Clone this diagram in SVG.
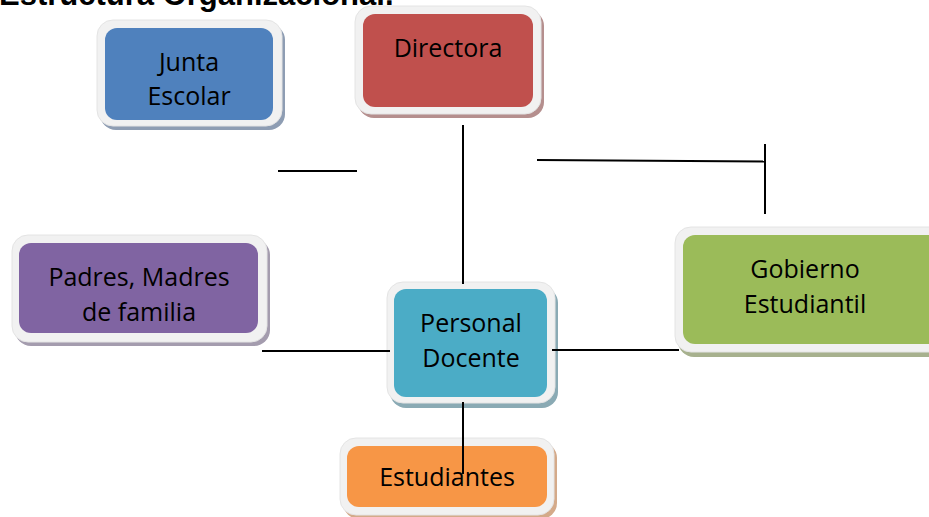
<svg xmlns="http://www.w3.org/2000/svg" width="929" height="517" viewBox="0 0 929 517">
<style>
.frame{fill:#f1f1f1;stroke:#e4e4e4;stroke-width:1}
.lbl{font-family:"Open Sans","Noto Sans",sans-serif;font-size:25px;fill:#000;text-anchor:middle}
.title{font-family:"Liberation Sans",Arial,sans-serif;font-weight:bold;font-size:31px;fill:#000}
.conn line{stroke:#000;stroke-width:2}
</style>
<rect width="929" height="517" fill="#fff"/>
<text class="title" x="-1" y="5">Estructura Organizacional.</text>

<g id="junta">
<rect x="100" y="24" width="185" height="106" rx="16" fill="#8e9db3"/>
<rect class="frame" x="97" y="20" width="185" height="106" rx="16"/>
<rect x="105" y="28" width="168" height="92" rx="12" fill="#4f81bd"/>
<text class="lbl" x="189" y="71">Junta</text>
<text class="lbl" x="189" y="105">Escolar</text>
</g>

<g id="directora">
<rect x="358" y="10" width="186" height="108" rx="16" fill="#b58f8e"/>
<rect class="frame" x="355" y="6" width="186" height="108" rx="16"/>
<rect x="363" y="14" width="170" height="93" rx="12" fill="#c0504d"/>
<text class="lbl" x="448" y="57">Directora</text>
</g>

<g id="padres">
<rect x="15" y="239" width="255" height="107" rx="16" fill="#a49cae"/>
<rect class="frame" x="12" y="235" width="255" height="107" rx="16"/>
<rect x="19" y="243" width="239" height="90" rx="12" fill="#8064a2"/>
<text class="lbl" x="139" y="286">Padres, Madres</text>
<text class="lbl" x="139" y="321">de familia</text>
</g>

<g id="personal">
<rect x="390" y="287" width="168" height="121" rx="16" fill="#8aaab4"/>
<rect class="frame" x="387" y="282" width="168" height="121" rx="16"/>
<rect x="394" y="289" width="153" height="108" rx="12" fill="#4bacc6"/>
<text class="lbl" x="471" y="332">Personal</text>
<text class="lbl" x="471" y="367">Docente</text>
</g>

<g id="estudiantes">
<rect x="343" y="442" width="214" height="77" rx="16" fill="#d4aa8a"/>
<rect class="frame" x="340" y="438" width="214" height="77" rx="16"/>
<rect x="347" y="446" width="200" height="61" rx="12" fill="#f79646"/>
<text class="lbl" x="447" y="486">Estudiantes</text>
</g>

<g id="gobierno">
<rect x="678" y="232" width="270" height="125" rx="16" fill="#a7b18e"/>
<rect class="frame" x="675" y="227" width="270" height="125" rx="16"/>
<rect x="683" y="235" width="260" height="109" rx="12" fill="#9bbb59"/>
<text class="lbl" x="805" y="278">Gobierno</text>
<text class="lbl" x="805" y="313">Estudiantil</text>
</g>

<g id="connectors" class="conn">
<line x1="278" y1="171" x2="357" y2="171"/>
<line x1="463" y1="125" x2="463" y2="284"/>
<line x1="537" y1="160" x2="765" y2="161.5"/>
<line x1="765" y1="144" x2="765" y2="214"/>
<line x1="262" y1="351" x2="390" y2="351"/>
<line x1="552" y1="350" x2="679" y2="350"/>
<line x1="463" y1="402" x2="463" y2="474"/>
</g>
</svg>
